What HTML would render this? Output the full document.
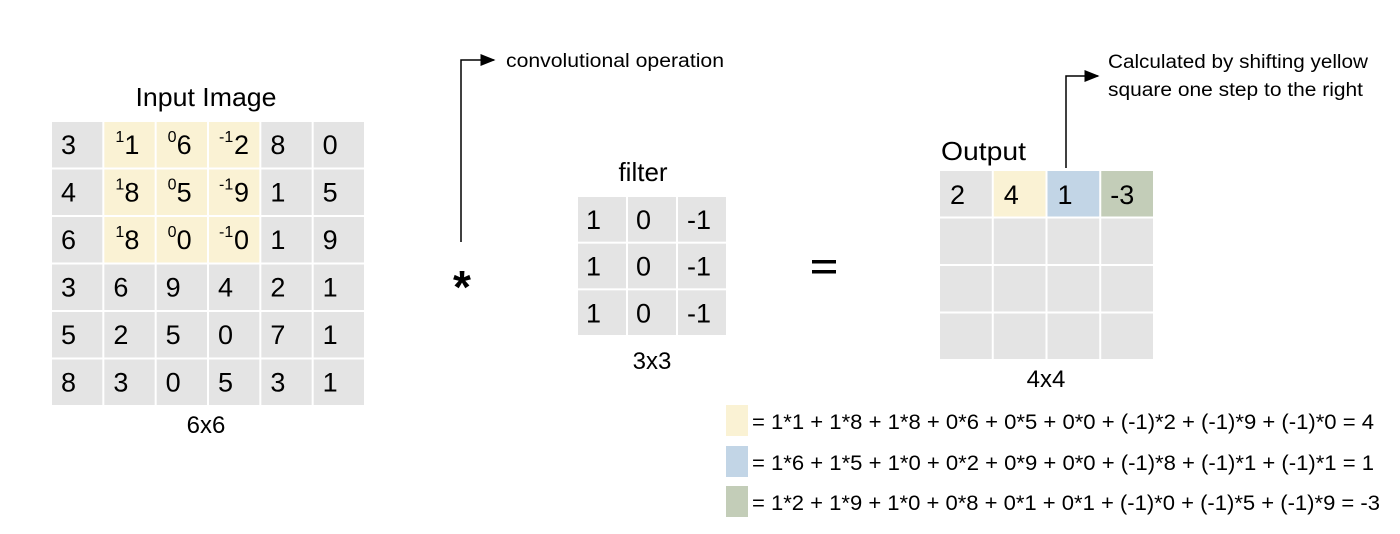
<!DOCTYPE html>
<html><head><meta charset="utf-8"><style>
html,body{margin:0;padding:0;background:#fff;}
svg{display:block;font-family:"Liberation Sans",sans-serif;}
</style></head><body>
<svg id="s" width="1400" height="534" viewBox="0 0 1400 534">
<defs><marker id="ah" markerWidth="10" markerHeight="8" refX="9" refY="4" orient="auto"><path d="M0,0 L10,4 L0,8 z" fill="#000"/></marker></defs>
<text x="206" y="106" font-size="26" text-anchor="middle" textLength="141" lengthAdjust="spacingAndGlyphs">Input Image</text>
<text x="206" y="433" font-size="24" text-anchor="middle">6x6</text>
<text x="643" y="181" font-size="26" text-anchor="middle">filter</text>
<text x="652" y="369" font-size="24" text-anchor="middle">3x3</text>
<text x="941" y="160" font-size="26" textLength="85" lengthAdjust="spacingAndGlyphs">Output</text>
<text x="1046" y="387" font-size="24" text-anchor="middle">4x4</text>
<text x="462" y="303" font-size="46" font-weight="bold" text-anchor="middle">*</text>
<g><rect x="812" y="260" width="24" height="3.5" fill="#000"/><rect x="812" y="270" width="24" height="3.5" fill="#000"/></g>
<path d="M461,242 V60 H494" fill="none" stroke="#000" stroke-width="1.5" marker-end="url(#ah)"/>
<text x="506" y="67" font-size="19" textLength="218" lengthAdjust="spacingAndGlyphs">convolutional operation</text>
<path d="M1066,168 V76 H1098" fill="none" stroke="#000" stroke-width="1.5" marker-end="url(#ah)"/>
<text x="1108" y="68" font-size="19" textLength="260" lengthAdjust="spacingAndGlyphs">Calculated by shifting yellow</text>
<text x="1108" y="96" font-size="19" textLength="255" lengthAdjust="spacingAndGlyphs">square one step to the right</text>
<g id="cells"></g>
</svg>
<script>
const inputValues=[[3,1,6,2,8,0],[4,8,5,9,1,5],[6,8,0,0,1,9],[3,6,9,4,2,1],[5,2,5,0,7,1],[8,3,0,5,3,1]];
const filterValues=[[1,0,-1],[1,0,-1],[1,0,-1]];
const outputValues=["2","4","1","-3"];
const formulaTexts=["= 1*1 + 1*8 + 1*8 + 0*6 + 0*5 + 0*0 + (-1)*2 + (-1)*9 + (-1)*0 = 4","= 1*6 + 1*5 + 1*0 + 0*2 + 0*9 + 0*0 + (-1)*8 + (-1)*1 + (-1)*1 = 1","= 1*2 + 1*9 + 1*0 + 0*8 + 0*1 + 0*1 + (-1)*0 + (-1)*5 + (-1)*9 = -3"];
const NS="http://www.w3.org/2000/svg";
const g=document.getElementById('cells');
const GREY="#e4e4e4",YEL="#faf2d4",BLUE="#c2d5e6",GREEN="#c3cdb8";
function rect(x,y,w,h,f){const r=document.createElementNS(NS,'rect');r.setAttribute('x',x);r.setAttribute('y',y);r.setAttribute('width',w);r.setAttribute('height',h);r.setAttribute('fill',f);g.appendChild(r);return r;}
function txt(x,y,s,fs,anchor){const t=document.createElementNS(NS,'text');t.setAttribute('x',x);t.setAttribute('y',y);t.setAttribute('font-size',fs);if(anchor)t.setAttribute('text-anchor',anchor);t.textContent=s;g.appendChild(t);return t;}
const ix0=51,iy0=121,iw=(365-51)/6,ih=(406-121)/6;
inputValues.forEach((row,r)=>row.forEach((v,c)=>{
  const hl=r<3&&c>=1&&c<=3;
  const cell=rect(ix0+c*iw+1,iy0+r*ih+1,iw-2,ih-2,hl?YEL:GREY);
  
  
  if(hl){
    const w=filterValues[r][c-1];
    const sup=txt(ix0+c*iw+(w<0?11:12),iy0+r*ih+21,String(w),16);
    
    
    const t=txt(ix0+c*iw+(w<0?26:21),iy0+r*ih+33,String(v),27);
    
    
  } else {
    const t=txt(ix0+c*iw+10,iy0+r*ih+33,String(v),27);
    
    
  }
}));
const fx0=577,fy0=196,fw=50,fh=(336-196)/3;
filterValues.forEach((row,r)=>row.forEach((v,c)=>{
  const cell=rect(fx0+c*fw+1,fy0+r*fh+1,fw-2,fh-2,GREY);
  
  
  const t=txt(fx0+c*fw+(v<0?10:9),fy0+r*fh+33,String(v),27);
  
  
}));
const ox0=939,oy0=170,ow=(1154-939)/4,oh=(360-170)/4;
const outColors=[GREY,YEL,BLUE,GREEN];
for(let r=0;r<4;r++)for(let c=0;c<4;c++){
  const cell=rect(ox0+c*ow+1,oy0+r*oh+1,ow-2,oh-2,r===0?outColors[c]:GREY);
  
  
  if(r===0){
    const t=txt(ox0+c*ow+(outColors[c]===GREEN?10:11),oy0+34,outputValues[c],27);
    
    
  }
}
const swY=[405,446,486];
const swC=[YEL,BLUE,GREEN];
formulaTexts.forEach((s,i)=>{
  const sw=rect(726,swY[i],22,31,swC[i]);
  
  
  const t=txt(752,swY[i]+24,s,21);
  t.setAttribute('textLength',i===2?628:622);
  t.setAttribute('lengthAdjust','spacingAndGlyphs');
  
  
});
</script>
</body></html>
